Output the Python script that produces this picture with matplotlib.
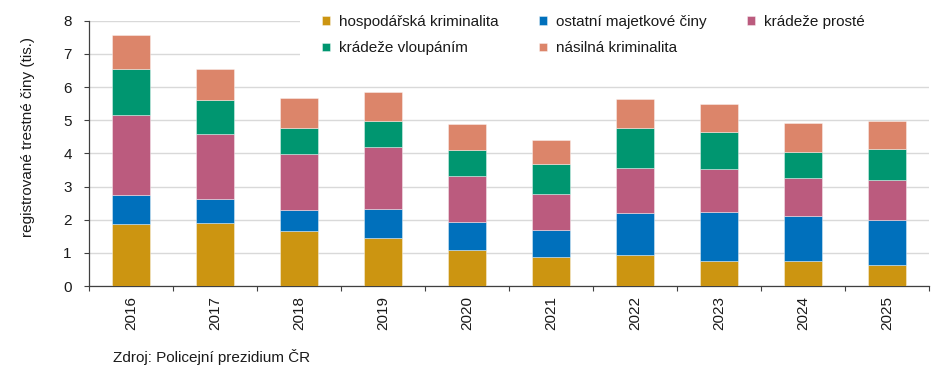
import numpy as np
import matplotlib
matplotlib.use("Agg")
import matplotlib.pyplot as plt
from matplotlib.patches import Rectangle

plt.rcParams['font.family'] = ['Liberation Sans', 'DejaVu Sans']

years = ['2016', '2017', '2018', '2019', '2020', '2021', '2022', '2023', '2024', '2025']

# registered crimes, thousands
hospodarska = [1.88, 1.91, 1.65, 1.44, 1.09, 0.86, 0.92, 0.76, 0.74, 0.64]
ostatni_majetkove = [0.87, 0.71, 0.64, 0.88, 0.84, 0.84, 1.28, 1.47, 1.36, 1.35]
kradeze_proste = [2.41, 1.97, 1.70, 1.88, 1.38, 1.06, 1.36, 1.30, 1.16, 1.21]
kradeze_vloupanim = [1.37, 1.02, 0.77, 0.77, 0.79, 0.92, 1.20, 1.12, 0.79, 0.93]
nasilna = [1.04, 0.93, 0.90, 0.88, 0.79, 0.72, 0.88, 0.84, 0.86, 0.84]

series = [
    ('hospodářská kriminalita', hospodarska, '#CC9511'),
    ('ostatní majetkové činy', ostatni_majetkove, '#0070BC'),
    ('krádeže prosté', kradeze_proste, '#BB5B7E'),
    ('krádeže vloupáním', kradeze_vloupanim, '#009670'),
    ('násilná kriminalita', nasilna, '#DC856A'),
]

fig = plt.figure(figsize=(9.45, 3.79), dpi=100)
ax = fig.add_axes([89 / 945, 1 - 286 / 379, 840 / 945, (286 - 20.7) / 379])

x = np.arange(len(years))
bottom = np.zeros(len(years))
handles = []
for name, vals, col in series:
    b = ax.bar(x, vals, width=0.46, bottom=bottom, color=col, label=name,
               edgecolor=(1, 1, 1, 0.45), linewidth=0.6, zorder=3)
    handles.append(b)
    bottom += np.array(vals)

ax.set_xlim(-0.5, len(years) - 0.5)
ax.set_ylim(0, 8)
ax.set_yticks(range(0, 9))
ax.yaxis.grid(True, color='#d9d9d9', linewidth=1.0, zorder=0)
ax.set_axisbelow(True)

ax.set_xticks(x)
ax.set_xticklabels(years, rotation=90, fontsize=11, color='#1a1a1a')
ax.set_xticks(np.arange(-0.5, len(years)), minor=True)
ax.tick_params(axis='x', which='major', length=0, pad=7)
ax.tick_params(axis='x', which='minor', length=3.5, width=0.8, color='#404040', direction='out')
ax.tick_params(axis='y', length=3.5, width=0.8, color='#404040', labelsize=11,
               labelcolor='#1a1a1a', pad=9)

for s in ['top', 'right']:
    ax.spines[s].set_visible(False)
for s in ['left', 'bottom']:
    ax.spines[s].set_color('#404040')
    ax.spines[s].set_linewidth(0.9)

ax.set_ylabel('registrované trestné činy (tis.)', fontsize=11, color='#1a1a1a')
ax.yaxis.label.set_position((0, 0.56))
ax.yaxis.labelpad = 20

# white area behind the legend (hides the top grid lines, as in the original)
ax.add_patch(Rectangle((300 / 945, 1 - 61 / 379), 640 / 945, 61 / 379,
                       transform=fig.transFigure, facecolor='white',
                       edgecolor='none', zorder=4, clip_on=False))

# legend: row-wise order in 3 columns
order = [0, 3, 1, 4, 2]
leg = ax.legend([handles[i] for i in order], [series[i][0] for i in order],
                ncol=3, loc='upper left', bbox_to_anchor=(316 / 945, 1 - 9 / 379),
                bbox_transform=fig.transFigure, frameon=True, fontsize=11,
                handlelength=0.5, handleheight=0.5, handletextpad=0.6,
                columnspacing=2.65, labelspacing=0.8, borderpad=0.4,
                borderaxespad=0)
leg.get_frame().set_facecolor('white')
leg.get_frame().set_edgecolor('none')
leg.get_frame().set_alpha(1)
leg.set_zorder(5)
for t in leg.get_texts():
    t.set_color('#1a1a1a')

fig.text(113 / 945, 1 - 357 / 379, 'Zdroj: Policejní prezidium ČR', fontsize=11,
         color='#1a1a1a', va='center', ha='left')

fig.savefig('out.png', dpi=100)
